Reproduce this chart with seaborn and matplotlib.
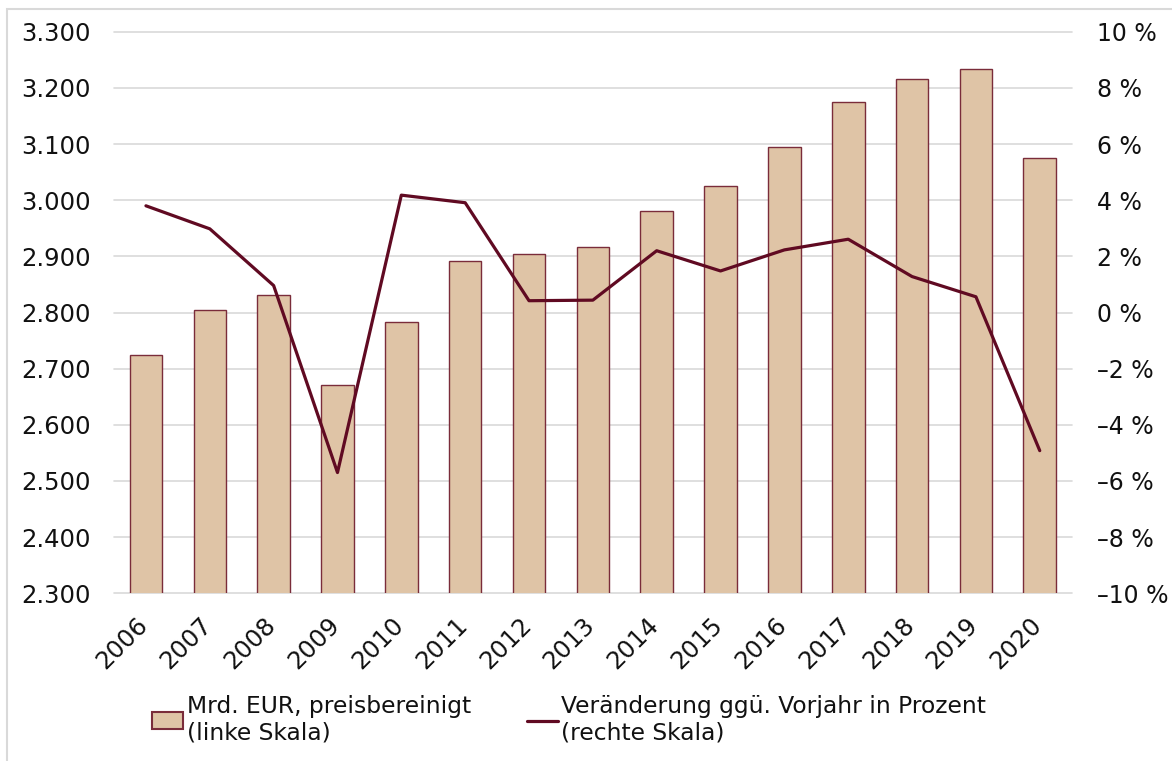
import numpy as np
import pandas as pd
import matplotlib
matplotlib.use("Agg")
import matplotlib.pyplot as plt
import matplotlib.ticker as mticker
import matplotlib.transforms as mtransforms
from matplotlib.patches import Rectangle, Patch
from matplotlib.lines import Line2D
import seaborn as sns

years = ["2006", "2007", "2008", "2009", "2010", "2011", "2012", "2013",
         "2014", "2015", "2016", "2017", "2018", "2019", "2020"]
gdp_bn_eur = [2724, 2805, 2832, 2671, 2783, 2892, 2905, 2917,
              2981, 3026, 3094, 3174, 3215, 3233, 3075]
change_pct = [3.80, 2.98, 0.96, -5.70, 4.18, 3.91, 0.42, 0.44,
              2.20, 1.48, 2.23, 2.61, 1.28, 0.56, -4.92]
left_ticks = [2300, 2400, 2500, 2600, 2700, 2800, 2900, 3000, 3100, 3200, 3300]
right_ticks = [-10, -8, -6, -4, -2, 0, 2, 4, 6, 8, 10]
label_bars = "Mrd. EUR, preisbereinigt\n(linke Skala)"
label_line = "Veränderung ggü. Vorjahr in Prozent\n(rechte Skala)"

BAR_FILL = "#DFC4A6"
BAR_EDGE = "#7A2C3A"
LINE_COL = "#600A22"
GRID_COL = "#D9D9D9"
TEXT_COL = "#111111"

sns.set_theme(style="white")
plt.rcParams["font.family"] = ["DejaVu Sans"]

df = pd.DataFrame({"year": years, "value": gdp_bn_eur, "change": change_pct})
df["pos"] = np.arange(len(df))

fig = plt.figure(figsize=(11.72, 7.61), dpi=100)
ax = fig.add_axes([0.0973, 0.2204, 0.9144 - 0.0973, 0.9583 - 0.2204])

sns.barplot(data=df, x="year", y="value", ax=ax, color=BAR_FILL, width=0.51,
            edgecolor=BAR_EDGE, linewidth=1.0, saturation=1, zorder=3)
ax.set_ylim(2300, 3300)
ax.set_xlim(-0.5, 14.5)
ax.set_yticks(left_ticks)
ax.yaxis.set_major_formatter(mticker.FuncFormatter(lambda v, p: f"{int(v):,}".replace(",", ".")))
ax.grid(axis="y", color=GRID_COL, linewidth=1.2, zorder=0)
for gl in ax.get_ygridlines():
    gl.set_clip_on(False)
ax.set_axisbelow(True)
ax.set_xlabel("")
ax.set_ylabel("")
for s in ax.spines.values():
    s.set_visible(False)
ax.tick_params(axis="both", length=0, labelsize=17.5, colors=TEXT_COL)
ax.tick_params(axis="y", pad=17)
shift = mtransforms.ScaledTranslation(-10 / 100, -15 / 100, fig.dpi_scale_trans)
for lab in ax.get_xticklabels():
    lab.set_rotation(45)
    lab.set_ha("right")
    lab.set_rotation_mode("anchor")
    lab.set_transform(lab.get_transform() + shift)

ax2 = ax.twinx()
sns.lineplot(data=df, x="pos", y="change", ax=ax2, color=LINE_COL, linewidth=2.3,
             legend=False, zorder=4)
ax2.set_ylim(-10, 10)
ax2.set_yticks(right_ticks)
ax2.yaxis.set_major_formatter(mticker.FuncFormatter(
    lambda v, p: (f"{int(v)} %").replace("-", "\u2013")))
ax2.set_xlim(-0.5, 14.5)
ax2.set_ylabel("")
ax2.set_xlabel("")
ax2.grid(False)
for s in ax2.spines.values():
    s.set_visible(False)
ax2.tick_params(axis="y", length=0, labelsize=17, colors=TEXT_COL, pad=18)

handles = [Patch(facecolor=BAR_FILL, edgecolor=BAR_EDGE, linewidth=1.5),
           Line2D([0], [0], color=LINE_COL, linewidth=2.3)]
leg = fig.legend(handles, [label_bars, label_line], loc="upper left",
                 bbox_to_anchor=(152 / 1172, 1 - 695 / 761), ncol=2, frameon=False,
                 fontsize=16.8, handlelength=1.33, handletextpad=0.15,
                 columnspacing=2.4, labelspacing=0.2, borderpad=0, borderaxespad=0)
for t in leg.get_texts():
    t.set_color(TEXT_COL)

fig.patches.append(Rectangle((7 / 1172, -0.1), 1.2, 1.1 - 9 / 761,
                             transform=fig.transFigure, fill=False,
                             edgecolor="#D9D9D9", linewidth=1.5))

fig.savefig("out.png", dpi=100)
